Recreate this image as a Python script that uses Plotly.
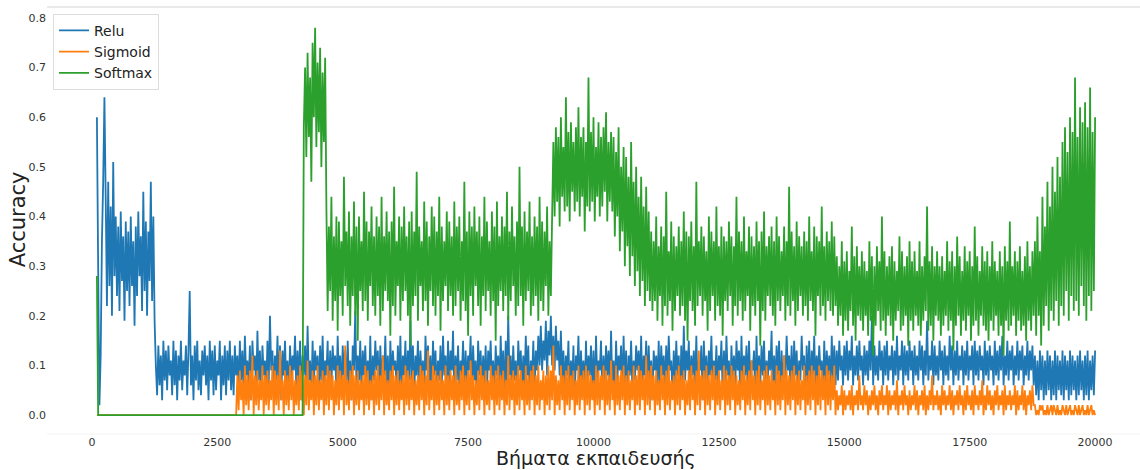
import plotly.graph_objects as go

# Training steps at which accuracy was logged
steps = list(range(100, 20001, 25))

# Batch accuracy per activation, in percent (0-100)
relu_pct = [
    60, 30, 2, 12, 35, 47, 64,
    44, 22, 47, 26, 42, 20, 51, 28, 40, 24, 38, 21, 41, 27, 36, 19, 39, 25, 37, 22,
    40, 26, 35, 18, 38, 24, 41, 28, 36, 21, 45, 25, 39, 20, 37, 27, 47, 23, 40, 19,
    10, 4, 14, 6, 12, 3, 15, 7, 13, 5, 14, 8, 11, 4, 15, 6, 13, 3, 12, 7,
    15, 5, 11, 8, 14, 4, 13, 25, 6, 12, 3, 14, 7, 15, 5, 11, 4, 13, 8, 14,
    6, 12, 3, 15, 7, 13, 4, 14, 5, 11, 8, 15, 3, 12, 6, 14, 4, 13, 7, 15,
    5, 12, 4, 14, 8,
    12, 5, 15, 7, 13, 4, 16, 8, 11, 6, 14, 3, 15, 9, 12, 5, 17, 7, 13, 4,
    14, 8, 11, 5, 15, 6, 20, 9, 13, 4, 12, 7, 16, 5, 14, 3, 13, 8, 15, 6,
    11, 4, 14, 7, 12, 9, 16, 5, 13, 6, 15, 3, 12, 8, 14, 5, 18, 7, 11, 4,
    15, 6, 13, 9, 12, 4, 14, 7, 16, 5, 11, 8, 15, 3, 13, 6, 14, 9, 12, 5,
    16, 7, 12, 4, 14, 8, 13, 5, 15, 6, 11, 3, 14, 9, 21, 5, 12, 7, 15, 4,
    13, 8, 14, 6, 11, 5, 16, 3, 12, 7, 15, 9, 13, 4, 14, 6, 12, 8, 16, 5,
    12, 3, 15, 7, 13, 9, 11, 5, 14, 6, 16, 4, 12, 8, 15, 5, 13, 7, 19, 6,
    14, 4, 12, 8, 15, 5, 13, 7, 11, 3, 16, 9, 14, 6, 12, 4, 15, 8, 13, 5,
    11, 7, 14, 5, 16, 8, 12, 4, 15, 6, 13, 9, 17, 3, 12, 7, 14, 5, 11, 8,
    15, 4, 13, 6, 12, 9, 16, 5, 14, 7, 11, 3, 15, 8, 13, 5, 12, 6, 14, 4,
    13, 9, 15, 6, 11, 4, 14, 8, 12, 5, 16, 7, 13, 3, 15, 6, 20, 8, 12, 5,
    14, 7, 11, 4, 15, 9, 13, 5, 12, 6, 16, 8, 14, 3, 11, 7, 15, 5, 13, 9,
    16, 10, 18, 9, 15, 11, 19, 8, 17, 12, 20, 10, 16, 9, 18, 11, 15, 8, 17, 7,
    13, 5, 12, 8, 15, 4, 11, 6, 14, 3, 12, 9, 16, 5, 13, 7, 11, 4, 15, 6,
    12, 8, 14, 5, 13, 3, 16, 7, 11, 9, 15, 4, 12, 6, 14, 8, 13, 5, 17, 6,
    11, 4, 15, 7, 12, 9, 14, 5, 16, 6, 13, 3, 12, 8, 15, 5, 11, 7, 14, 9,
    13, 6, 16, 4, 12, 8, 15, 5, 14, 7, 11, 3, 13, 9, 12, 6, 15, 4, 14, 8,
    12, 5, 14, 7, 16, 9, 11, 4, 13, 6, 15, 8, 12, 3, 14, 5, 18, 7, 13, 9,
    15, 4, 12, 8, 13, 6, 16, 5, 11, 9, 14, 3, 15, 7, 12, 5, 13, 8, 16, 6,
    11, 7, 14, 5, 12, 9, 15, 4, 13, 6, 16, 8, 11, 3, 14, 7, 12, 5, 15, 9,
    13, 4, 16, 6, 12, 8, 14, 5, 15, 7, 11, 9, 13, 3, 16, 5, 12, 6, 14, 8,
    15, 5, 11, 7, 13, 9, 17, 4, 12, 6, 14, 8, 15, 3, 13, 5, 12, 7, 16, 9,
    12, 6, 14, 4, 15, 8, 13, 5, 11, 7, 16, 9, 12, 3, 14, 6, 15, 4, 13, 8,
    16, 5, 12, 7, 14, 9, 11, 4, 15, 6, 13, 8, 12, 5, 16, 7, 14, 6,
    13, 7, 15, 9, 12, 6, 14, 8, 15, 7, 13, 9, 16, 6, 12, 8, 14, 7, 15, 9,
    12, 6, 14, 8, 13, 7, 15, 9, 20, 6, 14, 8, 12, 7, 15, 9, 13, 6, 14, 8,
    15, 7, 12, 9, 14, 6, 13, 8, 16, 7, 12, 9, 15, 6, 14, 8, 13, 7, 15, 9,
    13, 6, 14, 8, 12, 7, 15, 9, 14, 6, 13, 8, 19, 7, 12, 9, 15, 6, 14, 8,
    12, 7, 15, 9, 13, 6, 14, 8, 12, 7, 16, 9, 14, 6, 13, 8, 15, 7, 12, 9,
    14, 6, 13, 8, 15, 7, 12, 9, 14, 6, 15, 8, 13, 7, 14, 9, 12, 6, 15, 8,
    13, 7, 14, 9, 12, 6, 15, 8, 13, 7, 14, 9, 16, 6, 12, 8, 15, 7, 13, 9,
    14, 6, 12, 8, 15, 7, 13, 9, 14, 6, 12, 8, 15, 7, 13, 9, 14, 6,
    12, 4, 11, 3, 13, 5, 12, 3, 11, 4, 13, 5, 12, 3, 11, 4, 13, 3, 12, 5,
    11, 4, 13, 3, 12, 5, 11, 3, 13, 4, 12, 5, 11, 3, 12, 4, 13, 5, 11, 3,
    12, 4, 13, 3, 11, 5, 12, 4, 13,
]

sigmoid_pct = [
    0, 0, 0, 0, 0, 0, 0, 0, 0, 0, 0, 0, 0, 0, 0, 0, 0, 0, 0, 0,
    0, 0, 0, 0, 0, 0, 0, 0, 0, 0, 0, 0, 0, 0, 0, 0, 0, 0, 0, 0,
    0, 0, 0, 0, 0, 0, 0, 0, 0, 0, 0, 0, 0, 0, 0, 0, 0, 0, 0, 0,
    0, 0, 0, 0, 0, 0, 0, 0, 0, 0, 0, 0, 0, 0, 0, 0, 0, 0, 0, 0,
    0, 0, 0, 0, 0, 0, 0, 0, 0, 0, 0, 0, 0, 0, 0, 0, 0, 0, 0, 0,
    0, 0, 0, 0, 0, 0, 0, 0, 0, 0, 0, 0,
    8, 1, 9, 3, 7, 0, 10, 2, 8, 1, 9, 3, 12, 0, 8, 2, 9, 1, 7, 3,
    10, 0, 8, 2, 9, 1, 7, 3, 10, 0, 9, 2, 8, 1, 13, 3, 7, 0, 9, 2,
    8, 1, 10, 3, 9, 0, 7, 2, 8, 1, 10, 3, 9, 0, 8, 2, 11, 1, 7, 3,
    9, 0, 8, 2, 10, 1, 7, 3, 9, 0, 8, 2, 10, 1, 9, 3, 8, 0, 7, 2,
    10, 1, 9, 3, 8, 0, 14, 2, 7, 1, 9, 3, 10, 0, 8, 2, 9, 1, 7, 3,
    8, 0, 10, 2, 9, 1, 7, 3, 8, 0, 9, 2, 10, 1, 8, 3, 12, 0, 9, 2,
    7, 1, 9, 3, 10, 0, 8, 2, 9, 1, 7, 3, 8, 0, 10, 2, 9, 1, 8, 3,
    9, 0, 7, 2, 8, 1, 10, 3, 9, 0, 8, 2, 13, 1, 7, 3, 10, 0, 9, 2,
    8, 1, 9, 3, 7, 0, 10, 2, 8, 1, 9, 3, 8, 0, 10, 2, 7, 1, 9, 3,
    10, 0, 8, 2, 9, 1, 11, 3, 8, 0, 7, 2, 9, 1, 10, 3, 8, 0, 9, 2,
    7, 1, 10, 3, 8, 0, 9, 2, 10, 1, 8, 3, 9, 0, 7, 2, 12, 1, 8, 3,
    9, 0, 8, 2, 10, 1, 9, 3, 7, 0, 10, 2, 8, 1, 9, 3, 10, 0, 8, 2,
    10, 1, 7, 3, 9, 0, 8, 2, 10, 1, 9, 3, 14, 0, 8, 2, 7, 1, 10, 3,
    8, 0, 9, 2, 10, 1, 8, 3, 9, 0, 7, 2, 10, 1, 8, 3, 9, 0, 10, 2,
    9, 1, 8, 3, 7, 0, 10, 2, 9, 1, 8, 3, 10, 0, 9, 2, 8, 1, 11, 3,
    7, 0, 10, 2, 8, 1, 9, 3, 10, 0, 8, 2, 9, 1, 7, 3, 10, 0, 8, 2,
    10, 1, 9, 3, 8, 0, 12, 2, 9, 1, 10, 3, 8, 0, 9, 2, 7, 1, 10, 3,
    8, 0, 9, 2, 10, 1, 7, 3, 8, 0, 9, 2, 10, 1, 8, 3, 9, 0, 7, 2,
    9, 1, 10, 3, 8, 0, 9, 2, 13, 1, 8, 3, 9, 0, 10, 2, 8, 1, 9, 3,
    10, 0, 8, 2, 9, 1, 7, 3, 10, 0, 9, 2, 8, 1, 10, 3, 9, 0, 8, 2,
    7, 1, 9, 3, 10, 0, 8, 2, 9, 1, 11, 3, 8, 0, 9, 2, 10, 1, 7, 3,
    9, 0, 10, 2, 8, 1, 9, 3, 7, 0, 10, 2, 9, 1, 8, 3, 12, 0, 9, 2,
    8, 1, 9, 3, 10, 0, 8, 2, 9, 1, 7, 3, 10, 0, 8, 2, 9, 1, 10, 3,
    9, 0, 8, 2, 10, 1, 9, 3, 8, 0, 10, 2, 9, 1, 8, 3, 10, 0,
    5, 1, 4, 2, 6, 0, 5, 1, 4, 2, 5, 1, 6, 0, 4, 2, 5, 1, 8, 2,
    4, 1, 6, 2, 5, 0, 4, 1, 5, 2, 6, 1, 4, 0, 5, 2, 6, 1, 4, 2,
    6, 0, 5, 1, 4, 2, 5, 1, 7, 0, 4, 2, 5, 1, 6, 2, 4, 0, 5, 1,
    4, 2, 6, 1, 5, 0, 4, 2, 5, 1, 6, 0, 4, 1, 5, 2, 8, 1, 4, 2,
    5, 1, 4, 0, 6, 2, 5, 1, 4, 2, 6, 1, 5, 0, 4, 2, 5, 1, 6, 2,
    4, 0, 5, 1, 6, 2, 4, 1, 5, 0, 6, 2, 4, 1, 5, 2, 7, 0, 4, 1,
    6, 2, 5, 1, 4, 0, 5, 2, 6, 1, 4, 2, 5, 0, 6, 1, 4, 2, 5, 1,
    4, 2, 6, 0, 5, 1, 4, 2, 6, 1, 5, 0, 4, 2, 5, 1, 6, 2,
    2, 0, 1, 0, 2, 1, 2, 0, 1, 0, 2, 0, 1, 2, 0, 2, 1, 0, 2, 0,
    1, 0, 2, 1, 0, 2, 0, 1, 2, 0, 1, 0, 2, 1, 0, 2, 0, 1, 2, 0,
    1, 0, 2, 0, 1, 2, 0, 1, 0,
]

softmax_pct = [
    28,
    0, 0, 0, 0, 0, 0, 0, 0, 0, 0, 0, 0, 0, 0, 0, 0, 0, 0, 0, 0,
    0, 0, 0, 0, 0, 0, 0, 0, 0, 0, 0, 0, 0, 0, 0, 0, 0, 0, 0, 0,
    0, 0, 0, 0, 0, 0, 0, 0, 0, 0, 0, 0, 0, 0, 0, 0, 0, 0, 0, 0,
    0, 0, 0, 0, 0, 0, 0, 0, 0, 0, 0, 0, 0, 0, 0, 0, 0, 0, 0, 0,
    0, 0, 0, 0, 0, 0, 0, 0, 0, 0, 0, 0, 0, 0, 0, 0, 0, 0, 0, 0,
    0, 0, 0, 0, 0, 0, 0, 0, 0, 0, 0, 0, 0, 0, 0, 0, 0, 0, 0, 0,
    0, 0, 0, 0, 0, 0, 0, 0, 0, 0, 0, 0, 0, 0, 0, 0, 0, 0, 0, 0,
    0, 0, 0, 0, 0, 0, 0, 0, 0, 0, 0, 0, 0, 0, 0, 0, 0, 0, 0, 0,
    0, 0, 0, 0,
    58, 70, 52, 73, 56, 68, 47, 75, 60, 78, 54, 71, 57, 74, 50, 69, 55, 72,
    42, 21, 38, 25, 44, 19, 36, 23, 40, 17, 39, 24, 35, 20, 48, 26, 37, 22, 41, 18,
    36, 24, 43, 20, 38, 15, 40, 25, 35, 21, 45, 23, 39, 19, 37, 26, 42, 22, 36, 20,
    40, 24, 38, 18, 44, 21, 36, 25, 41, 23, 37, 16, 39, 22, 46, 20, 35, 26, 40, 19,
    38, 23, 42, 25, 36, 20, 39, 14, 41, 22, 37, 24, 49, 19, 38, 26, 35, 21, 43, 23,
    39, 18, 36, 25, 42, 22, 40, 20, 37, 24, 44, 17, 38, 23, 35, 26, 41, 21, 39, 24,
    36, 20, 43, 22, 38, 25, 40, 19, 35, 23, 47, 21, 37, 16, 41, 24, 38, 20, 42, 26,
    37, 22, 40, 18, 36, 24, 44, 21, 39, 25, 35, 20, 41, 23, 38, 15, 43, 22, 36, 25,
    40, 21, 38, 24, 45, 19, 37, 23, 42, 26, 36, 20, 39, 22, 50, 24, 38, 18, 41, 23,
    37, 25, 43, 20, 36, 22, 40, 24, 38, 19, 44, 23, 39, 21, 37, 26, 42, 20, 35, 24,
    40,
    55, 40, 58, 43, 56, 38, 60, 44, 54, 41, 64, 42, 57, 39, 59, 45, 55, 41, 58, 43,
    62, 40, 56, 44, 58, 37, 55, 42, 68, 41, 57, 43, 60, 39, 54, 44, 59, 40, 56, 42,
    58, 45, 61, 39, 55, 43, 57, 41,
    56, 36, 53, 40, 58, 33, 50, 37, 54, 30, 52, 34, 48, 28, 55, 32, 47, 26, 50, 29,
    44, 24, 48, 27, 42, 22, 46, 25, 41, 23,
    37, 21, 35, 23, 40, 19, 34, 24, 38, 18, 36, 22, 45, 20, 33, 23, 39, 17, 36, 21,
    34, 24, 38, 20, 35, 22, 41, 19, 37, 15, 36, 23, 39, 21, 34, 18, 47, 22, 35, 24,
    38, 20, 36, 23, 33, 17, 40, 21, 37, 24, 35, 19, 42, 22, 34, 20, 38, 16, 36, 23,
    35, 21, 39, 24, 36, 18, 34, 22, 44, 20, 37, 23, 35, 19, 40, 21, 33, 24, 38, 17,
    36, 22, 34, 20, 39, 23, 35, 14, 37, 21, 41, 19, 34, 24, 36, 22, 38, 20, 35, 18,
    40, 23, 36, 21, 33, 24, 38, 19, 35, 22, 46, 20, 37, 23, 34, 18, 39, 21, 36, 24,
    34, 20, 37, 22, 35, 19, 40, 23, 33, 21, 38, 16, 36, 24, 35, 20, 42, 22, 34, 19,
    37, 23, 35, 21, 39, 20, 36, 22,
    32, 18, 30, 20, 35, 16, 31, 19, 33, 17, 29, 21, 38, 18, 32, 15, 34, 20, 30, 19,
    33, 17, 31, 20, 29, 16, 35, 19, 32, 12, 30, 18, 34, 21, 31, 17, 40, 19, 33, 16,
    30, 20, 32, 18, 34, 15, 31, 19, 29, 21, 36, 17, 33, 18, 30, 20, 32, 14, 35, 19,
    31, 17, 33, 20, 29, 18, 35, 16, 30, 19, 32, 21, 42, 17, 31, 18, 34, 15, 30, 20,
    33, 19, 30, 16, 32, 18, 29, 20, 35, 17, 31, 19, 33, 13, 30, 18, 36, 20, 32, 16,
    29, 19, 34, 17, 31, 20, 33, 15, 30, 18, 38, 19, 32, 16, 29, 20, 34, 18, 31, 17,
    33, 15, 30, 19, 35, 17, 31, 20, 29, 16, 33, 18, 30, 12, 34, 19, 31, 17, 39, 18,
    30, 20, 33, 16, 31, 19, 34, 17, 29, 18, 32, 15, 35, 19, 30, 17, 33, 20,
    35, 16, 40, 20, 33, 14, 44, 18, 38, 22, 47, 17, 42, 21, 50, 19, 45, 23, 52, 18,
    48, 22, 55, 20, 58, 25, 53, 19, 60, 24, 57, 21, 68, 23, 56, 20, 62, 26, 59, 22,
    63, 19, 58, 24, 66, 21, 57, 25, 60,
]

series_names = ["Relu", "Sigmoid", "Softmax"]
series_colors = ["#1f77b4", "#ff7f0e", "#2ca02c"]
series_values = [relu_pct, sigmoid_pct, softmax_pct]

x_ticks = [0, 2500, 5000, 7500, 10000, 12500, 15000, 17500, 20000]
y_ticks = [0.0, 0.1, 0.2, 0.3, 0.4, 0.5, 0.6, 0.7, 0.8]

FONT = "DejaVu Sans"

fig = go.Figure()
for name, color, vals in zip(series_names, series_colors, series_values):
    fig.add_trace(go.Scatter(
        x=steps,
        y=[v / 100 for v in vals],
        mode="lines",
        name=name,
        line=dict(color=color, width=1.8, simplify=False),
    ))

fig.update_layout(
    width=1140,
    height=470,
    margin=dict(l=47, r=0, t=7, b=36),
    paper_bgcolor="white",
    plot_bgcolor="white",
    font=dict(family=FONT, color="#333333"),
    showlegend=True,
    legend=dict(
        x=0.0055, y=0.984, xanchor="left", yanchor="top",
        bgcolor="rgba(255,255,255,0.85)",
        bordercolor="#dddddd", borderwidth=1,
        font=dict(family=FONT, size=14, color="#222222"),
        itemwidth=30,
        tracegroupgap=0,
    ),
    xaxis=dict(
        range=[-895, 20895],
        tickmode="array", tickvals=x_ticks,
        ticktext=[str(t) for t in x_ticks],
        showgrid=False, zeroline=False, showline=False,
        ticks="", tickfont=dict(family=FONT, size=11, color="#333333"),
    ),
    yaxis=dict(
        range=[-0.038, 0.822],
        tickmode="array", tickvals=y_ticks,
        ticktext=[f"{t:.1f}" for t in y_ticks],
        showgrid=False, zeroline=False, showline=False,
        ticks="", tickfont=dict(family=FONT, size=11, color="#333333"),
    ),
    shapes=[
        dict(type="line", xref="paper", yref="paper", x0=0, x1=1, y0=1, y1=1,
             line=dict(color="#e2e2e2", width=1.5)),
        dict(type="line", xref="paper", yref="paper", x0=0, x1=1, y0=0, y1=0,
             line=dict(color="#f3f3f3", width=1)),
    ],
    annotations=[
        dict(text="Βήματα εκπαιδευσής", xref="paper", yref="paper",
             x=0.5023, y=-0.057, xanchor="center", yanchor="middle",
             showarrow=False, font=dict(family=FONT, size=19, color="#222222")),
        dict(text="Accuracy", xref="paper", yref="paper",
             x=-0.0268, y=0.502, xanchor="center", yanchor="middle",
             textangle=-90, showarrow=False,
             font=dict(family=FONT, size=21, color="#222222")),
    ],
)

fig.write_html("out.html")
